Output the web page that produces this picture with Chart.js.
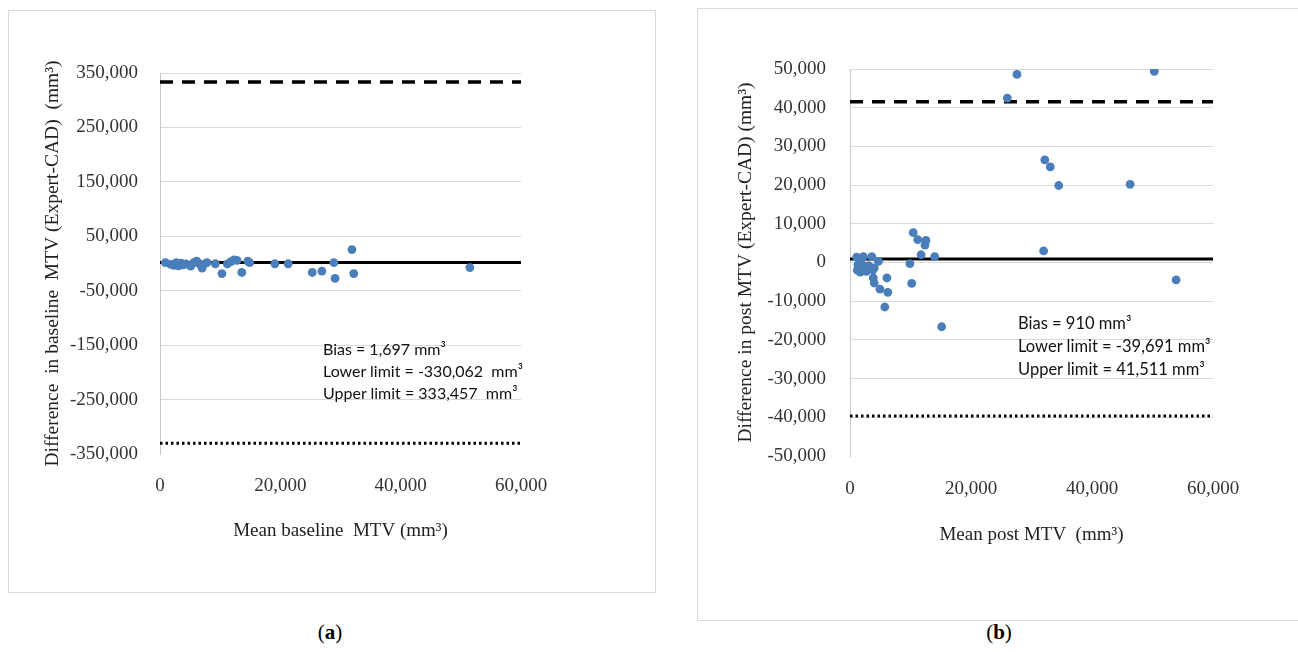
<!DOCTYPE html>
<html>
<head>
<meta charset="utf-8">
<script src="https://cdn.jsdelivr.net/npm/chart.js@4.4.1/dist/chart.umd.min.js"></script>
<style>
  html, body { margin: 0; padding: 0; background: #fff; }
  body { width: 1298px; height: 652px; position: relative; overflow: hidden; }
  .frame { position: absolute; border: 1px solid #d9d9d9; box-sizing: border-box; }
  canvas { position: absolute; }
  .note { position: absolute; font-family: Lato, "Open Sans", sans-serif; font-size: 16px; color: #111; line-height: 22px; white-space: pre; }
  .cap { position: absolute; font-family: "Liberation Serif", "DejaVu Serif", serif; font-size: 21px; color: #000; transform: translateX(-50%); }
</style>
</head>
<body>
<div class="frame" style="left:8px;top:10px;width:648px;height:583px;"></div>
<div class="frame" style="left:697px;top:8px;width:610px;height:613px;"></div>
<canvas id="chartA" width="647" height="582" style="left:8px;top:10px;"></canvas>
<canvas id="chartB" width="603" height="612" style="left:697px;top:8px;"></canvas>

<div class="note" style="left:323px;top:338px;">Bias = 1,697 mm³
Lower limit = -330,062  mm³
Upper limit = 333,457  mm³</div>
<div class="note" style="left:1018px;top:312px;font-size:16.5px;line-height:23px;">Bias = 910 mm³
Lower limit = -39,691 mm³
Upper limit = 41,511 mm³</div>

<div class="cap" style="left:330px;top:620px;">(<b>a</b>)</div>
<div class="cap" style="left:999px;top:620px;">(<b>b</b>)</div>

<script>
// Baseline MTV: mean of the two readings vs. Expert minus CAD difference (mm³)
const baselineMean = [900, 1800, 2300, 2700, 3100, 3500, 3900, 4300, 5100, 5600, 6100, 6500, 7000, 7200, 7800, 9200, 10300, 11200, 11800, 12300, 12800, 13600, 14600, 14900, 19100, 21300, 25300, 26900, 28900, 29100, 31900, 32200, 51500];
const baselineDiff = [1700, -1500, -3300, 1500, -4200, 500, -2500, -800, -5000, 1500, 4500, -300, -8500, -2300, 1700, -500, -18500, -800, 3500, 6500, 5800, -16500, 4500, 1500, -500, -500, -16500, -14000, 1700, -27500, 25500, -18500, -7500];
const baselineBias = 1697;
const baselineLower = -330062;
const baselineUpper = 333457;

// Post-treatment MTV
const postMean = [1100, 1650, 2200, 1300, 1200, 1700, 1900, 2500, 2700, 3100, 3600, 3800, 4700, 4000, 3850, 4000, 6100, 4950, 6250, 5750, 9900, 10200, 10450, 11200, 11750, 12550, 12400, 14000, 15150, 26000, 27600, 32000, 32200, 33100, 34500, 46300, 50300, 53900];
const postDiff = [1400, 700, 1500, -600, -2000, -2500, -300, -1000, -2300, -800, 1500, -1900, 300, -1400, -4000, -5300, -4000, -6900, -7700, -11500, -300, -5400, 7700, 5900, 2000, 5700, 4500, 1500, -16600, 42500, 48600, 3000, 26500, 24700, 19900, 20200, 49400, -4500];
const postBias = 910;
const postLower = -39691;
const postUpper = 41511;

// Axis ranges and tick steps
const xRange = [0, 60000];
const xStep = 20000;
const baselineYRange = [-350000, 350000];
const baselineYStep = 100000;
const postYRange = [-50000, 50000];
const postYStep = 10000;

const serif = '"Liberation Serif", "DejaVu Serif", serif';
const pointBlue = '#4a7ebb';
const fmt = v => Number(v).toLocaleString('en-US');

function refLine(value, dash, width) {
  return {
    type: 'line',
    data: [{ x: xRange[0], y: value }, { x: xRange[1], y: value }],
    borderColor: '#000',
    borderWidth: width,
    borderDash: dash,
    borderCapStyle: 'butt',
    pointRadius: 0,
    fill: false,
    order: 2
  };
}

function makeChart(id, mean, diff, bias, lower, upper, yRange, yStep, xTitle, yTitle, geo) {
  const pts = mean.map((m, i) => ({ x: m, y: diff[i] }));
  const yMin = yRange[0];
  return new Chart(document.getElementById(id), {
    type: 'scatter',
    data: {
      datasets: [
        { type: 'scatter', data: pts, backgroundColor: pointBlue, borderColor: pointBlue, pointRadius: 4.4, pointBorderWidth: 0, order: 0 },
        refLine(bias, [], 3),
        refLine(upper, [13, 9], 3.5),
        refLine(lower, [2.5, 3], 3)
      ]
    },
    options: {
      responsive: false,
      animation: false,
      layout: { padding: geo.padding },
      plugins: { legend: { display: false }, tooltip: { enabled: false } },
      scales: {
        x: {
          type: 'linear',
          min: xRange[0], max: xRange[1],
          afterFit: s => { s.height = 100; },
          ticks: { stepSize: xStep, padding: geo.xPad, color: '#333', font: { family: serif, size: 19 }, callback: fmt, maxRotation: 0 },
          grid: { display: false, drawTicks: false },
          border: { display: false },
          title: { display: true, text: xTitle, color: '#222', font: { family: serif, size: 19 }, padding: { top: 0, bottom: geo.xTitlePad } }
        },
        y: {
          min: yRange[0], max: yRange[1],
          afterFit: s => { s.width = geo.yWidth; },
          ticks: { stepSize: yStep, padding: geo.yPad, color: '#333', font: { family: serif, size: 19 }, callback: fmt },
          grid: { drawTicks: false, lineWidth: 1, color: ctx => (ctx.tick && ctx.tick.value === yMin) ? 'rgba(0,0,0,0)' : '#d9d9d9' },
          border: { display: true, color: '#c8c8c8', width: 1 },
          title: { display: true, text: yTitle, color: '#222', font: { family: serif, size: 19.5 }, padding: { top: geo.yTitlePad, bottom: 0 } }
        }
      }
    }
  });
}

makeChart('chartA', baselineMean, baselineDiff, baselineBias, baselineLower, baselineUpper,
  baselineYRange, baselineYStep,
  'Mean baseline  MTV (mm³)', 'Difference  in baseline  MTV (Expert-CAD)  (mm³)',
  { padding: { left: 0, top: 63, right: 134, bottom: 38 }, yWidth: 152, yPad: 22, xPad: 21, xTitlePad: 12, yTitlePad: 33 });

makeChart('chartB', postMean, postDiff, postBias, postLower, postUpper,
  postYRange, postYStep,
  'Mean post MTV  (mm³)', 'Difference in post MTV (Expert-CAD) (mm³)',
  { padding: { left: 0, top: 61, right: 87, bottom: 64 }, yWidth: 153, yPad: 24, xPad: 22, xTitlePad: 10, yTitlePad: 37 });
</script>
</body>
</html>
